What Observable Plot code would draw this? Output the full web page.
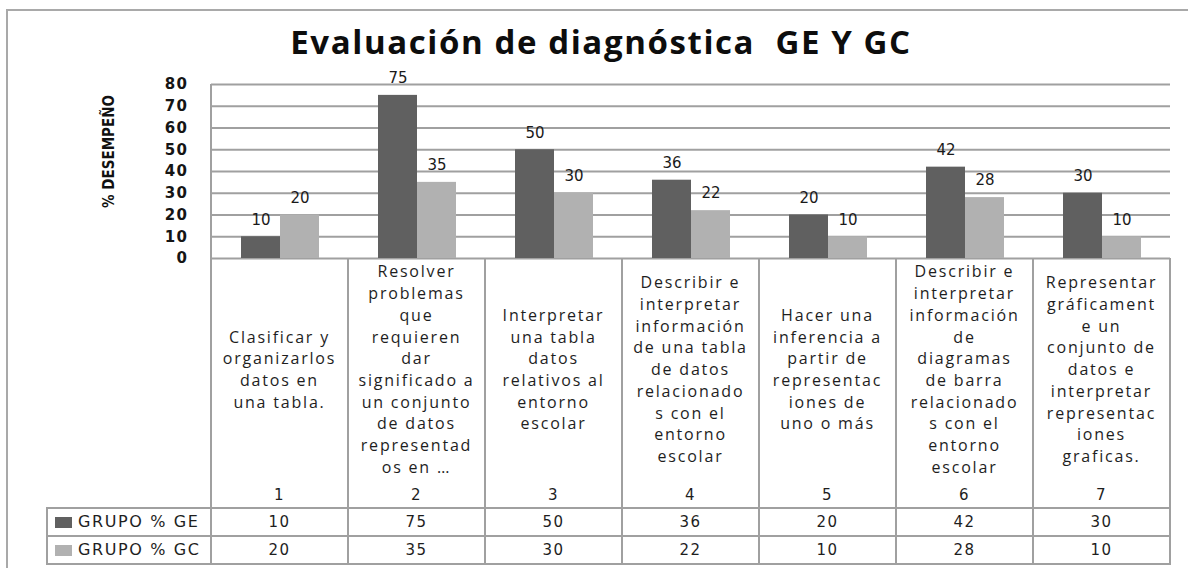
<!DOCTYPE html>
<html>
<head>
<meta charset="utf-8">
<script src="https://cdn.jsdelivr.net/npm/d3@7"></script>
<script src="https://cdn.jsdelivr.net/npm/@observablehq/plot@0.6"></script>
<style>
  html, body { margin: 0; padding: 0; background: #fff; overflow: hidden; }
  #wrap { position: relative; width: 1188px; height: 568px; overflow: hidden; background: #fff; }
  #border { position: absolute; left: 6px; top: 9px; width: 1300px; height: 700px; border: 2px solid #a9a9a9; box-sizing: border-box; }
  #title { position: relative; height: 64px; }
  #title span { position: absolute; left: 14px; right: 0; top: 25px; text-align: center; white-space: pre;
    font-family: "Open Sans", sans-serif; font-weight: 700; font-size: 33px; letter-spacing: 1.6px; line-height: 33px; color: #0d0d0d; }
  #chart { position: relative; display: block; }
  #table { position: absolute; left: 0; top: 0; width: 1188px; height: 568px; pointer-events: none; }
  .ln { position: absolute; background: #a0a0a0; }
  .lab { position: absolute; display: flex; align-items: center; justify-content: center; }
  .lab div { white-space: pre; text-align: center; font-family: "Open Sans", sans-serif; font-size: 16px;
    letter-spacing: 1.8px; line-height: 21.7px; color: #1e1e1e; }
  .num { position: absolute; text-align: center; font-family: "DejaVu Sans", sans-serif; font-size: 15px;
    letter-spacing: 1.4px; color: #1e1e1e; }
  .leg { position: absolute; font-family: "DejaVu Sans", sans-serif; font-size: 16px; letter-spacing: 1.6px; color: #1e1e1e; white-space: pre; }
  .sw { position: absolute; }
  #chart g[aria-label="y-axis tick label"] text { letter-spacing: 1.5px; }
</style>
</head>
<body>
<div id="wrap">
  <div id="border"></div>
  <div id="title"><span>Evaluación de diagnóstica  GE Y GC</span></div>
  <div id="table"></div>
</div>
<script>
// ---- data ----
const categoryIds = ["1", "2", "3", "4", "5", "6", "7"];
const categoryLabels = [
  "Clasificar y\norganizarlos\ndatos en\nuna tabla.",
  "Resolver\nproblemas\nque\nrequieren\ndar\nsignificado a\nun conjunto\nde datos\nrepresentad\nos en …",
  "Interpretar\nuna tabla\ndatos\nrelativos al\nentorno\nescolar",
  "Describir e\ninterpretar\ninformación\nde una tabla\nde datos\nrelacionado\ns con el\nentorno\nescolar",
  "Hacer una\ninferencia a\npartir de\nrepresentac\niones de\nuno o más",
  "Describir e\ninterpretar\ninformación\nde\ndiagramas\nde barra\nrelacionado\ns con el\nentorno\nescolar",
  "Representar\ngráficament\ne un\nconjunto de\ndatos e\ninterpretar\nrepresentac\niones\ngraficas."
];
const seriesKeys = ["GE", "GC"];
const seriesNames = ["GRUPO % GE", "GRUPO % GC"];
const valuesGE = [10, 75, 50, 36, 20, 42, 30];
const valuesGC = [20, 35, 30, 22, 10, 28, 10];
const yTicks = [0, 10, 20, 30, 40, 50, 60, 70, 80];
const yLabel = "% DESEMPEÑO";

// ---- styles ----
const seriesColors = ["#606060", "#b1b1b1"];
const gridColor = "#a0a0a0";

const seriesValues = [valuesGE, valuesGC];
const rows = categoryIds.flatMap((id, i) =>
  seriesKeys.map((k, s) => ({ id, group: k, value: seriesValues[s][i] }))
);

const titleH = 64;
const chart = Plot.plot({
  width: 1188,
  height: 568 - titleH,
  marginTop: 20,
  marginBottom: 310,
  marginLeft: 210,
  marginRight: 18,
  style: { fontFamily: "DejaVu Sans, sans-serif", background: "transparent", overflow: "visible" },
  fx: { domain: categoryIds, padding: 0, axis: null, label: null },
  x: { domain: seriesKeys, paddingInner: 0, paddingOuter: 0.714, axis: null },
  y: { domain: [0, 80] },
  color: { domain: seriesKeys, range: seriesColors },
  marks: [
    Plot.gridY(yTicks, { stroke: gridColor, strokeOpacity: 1, strokeWidth: 2 }),
    Plot.axisY({ ticks: yTicks, tickSize: 0, tickPadding: 23, fontSize: 15, fontWeight: "bold", fill: "#151515", label: null }),
    Plot.barY(rows, { fx: "id", x: "group", y: "value", fill: "group" }),
    Plot.text(rows, { fx: "id", x: "group", y: "value", text: d => String(d.value), dy: -17, fontSize: 15, fill: "#1a1a1a" }),
    Plot.text([yLabel], { fx: () => categoryIds[0], text: d => d, frameAnchor: "left", textAnchor: "middle", rotate: -90, dx: -102, dy: -20,
      fontSize: 15, fontWeight: "bold", fontFamily: "'Liberation Sans Narrow', 'DejaVu Sans Condensed', sans-serif", fill: "#111" })
  ]
});
chart.id = "chart";
document.getElementById("wrap").insertBefore(chart, document.getElementById("table"));

// ---- data table drawn from the chart's own scales ----
const fx = chart.scale("fx");
const ys = chart.scale("y");
const bw = fx.bandwidth;
const y0 = titleH + ys.apply(0);
const yTop = titleH + ys.apply(80);
const labelRowH = 250, rowH = 28, lw = 2, legendLeft = 47;
const xEnd = fx.apply(categoryIds[categoryIds.length - 1]) + bw;
const tbl = document.getElementById("table");
function el(cls, css, html) {
  const d = document.createElement("div");
  d.className = cls;
  Object.assign(d.style, css);
  if (html != null) d.innerHTML = html;
  tbl.appendChild(d);
  return d;
}
const px = v => v + "px";
const tableBottom = y0 + labelRowH + 2 * rowH;
// vertical lines
for (let k = 0; k <= categoryIds.length; k++) {
  const x = k < categoryIds.length ? fx.apply(categoryIds[k]) : xEnd;
  const top = k === 0 ? yTop : y0;
  el("ln", { left: px(x - lw / 2), top: px(top), width: px(lw), height: px(tableBottom - top + 1) });
}
// horizontal lines
[y0 + labelRowH, y0 + labelRowH + rowH, tableBottom].forEach(y => {
  el("ln", { left: px(legendLeft - lw / 2), top: px(y - lw / 2), width: px(xEnd - legendLeft + lw), height: px(lw) });
});
el("ln", { left: px(legendLeft - lw / 2), top: px(y0 + labelRowH), width: px(lw), height: px(2 * rowH) });

categoryIds.forEach((id, i) => {
  const x = fx.apply(id);
  const lab = el("lab", { left: px(x), top: px(y0), width: px(bw), height: px(224) });
  const inner = document.createElement("div");
  inner.textContent = categoryLabels[i];
  lab.appendChild(inner);
  el("num", { left: px(x), top: px(y0 + 227), width: px(bw), height: "20px", lineHeight: "20px" }).textContent = id;
  seriesValues.forEach((vals, s) => {
    el("num", { left: px(x), top: px(y0 + labelRowH + s * rowH), width: px(bw), height: px(rowH), lineHeight: px(rowH) }).textContent = String(vals[i]);
  });
});
seriesNames.forEach((name, s) => {
  const top = y0 + labelRowH + s * rowH;
  el("sw", { left: px(legendLeft + 8), top: px(top + 9), width: "17px", height: "11px", background: seriesColors[s] });
  el("leg", { left: px(legendLeft + 31), top: px(top), height: px(rowH), lineHeight: px(rowH) }).textContent = name;
});
</script>
</body>
</html>
